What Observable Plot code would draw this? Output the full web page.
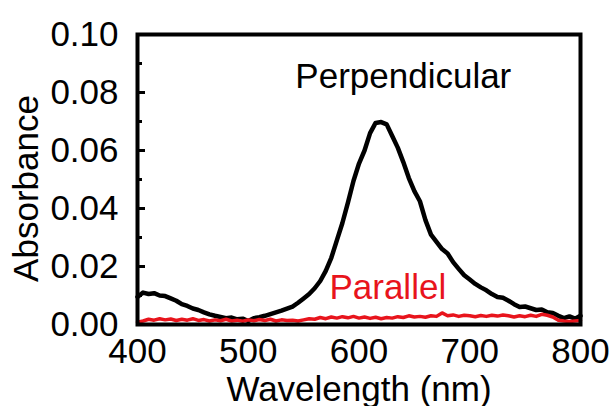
<!DOCTYPE html>
<html>
<head>
<meta charset="utf-8">
<script src="https://cdn.jsdelivr.net/npm/d3@7"></script>
<script src="https://cdn.jsdelivr.net/npm/@observablehq/plot@0.6"></script>
<style>
  html, body { margin: 0; padding: 0; background: #fff; }
</style>
</head>
<body>
<div id="chart"></div>
<script>
const wavelengths = d3.range(400, 801, 5);
const perpendicular = [
  0.0095, 0.0110, 0.0105, 0.0108, 0.0100, 0.0098, 0.0090, 0.0082, 0.0070, 0.0064,
  0.0055, 0.0050, 0.0042, 0.0035, 0.0030, 0.0026, 0.0022, 0.0024, 0.0018, 0.0020,
  0.0012, 0.0022, 0.0025, 0.0030, 0.0036, 0.0042, 0.0048, 0.0055, 0.0062, 0.0075,
  0.0090, 0.0105, 0.0125, 0.0150, 0.0185, 0.0230, 0.0290, 0.0350, 0.0420, 0.0495,
  0.0555, 0.0600, 0.0660, 0.0695, 0.0698, 0.0690, 0.0650, 0.0610, 0.0560, 0.0505,
  0.0460, 0.0425, 0.0360, 0.0310, 0.0285, 0.0260, 0.0245, 0.0215, 0.0192, 0.0170,
  0.0155, 0.0140, 0.0128, 0.0118, 0.0105, 0.0095, 0.0092, 0.0082, 0.0070, 0.0060,
  0.0062, 0.0056, 0.0050, 0.0052, 0.0042, 0.0040, 0.0030, 0.0022, 0.0028, 0.0020,
  0.0030
];
const parallel = [
  0.0008, 0.0012, 0.0018, 0.0015, 0.0020, 0.0016, 0.0019, 0.0014, 0.0018, 0.0015,
  0.0020, 0.0014, 0.0017, 0.0012, 0.0016, 0.0013, 0.0018, 0.0012, 0.0015, 0.0011,
  0.0016, 0.0013, 0.0017, 0.0014, 0.0018, 0.0012, 0.0016, 0.0014, 0.0015, 0.0012,
  0.0016, 0.0020, 0.0018, 0.0024, 0.0020, 0.0026, 0.0022, 0.0027, 0.0023, 0.0028,
  0.0022, 0.0026, 0.0021, 0.0025, 0.0020, 0.0024, 0.0022, 0.0027, 0.0024, 0.0030,
  0.0026, 0.0028, 0.0025, 0.0030, 0.0028, 0.0040, 0.0030, 0.0033, 0.0028, 0.0032,
  0.0030, 0.0027, 0.0031, 0.0028, 0.0032, 0.0029, 0.0033, 0.0030, 0.0026, 0.0030,
  0.0027, 0.0032, 0.0028, 0.0035, 0.0032, 0.0026, 0.0015, 0.0012, 0.0010, 0.0012,
  0.0014
];
const xTicks = [400, 500, 600, 700, 800];
const yTicks = [0, 0.02, 0.04, 0.06, 0.08, 0.10];
const yMinorTicks = [0.01, 0.03, 0.05, 0.07, 0.09];
const seriesNames = ["Perpendicular", "Parallel"];
const labelX = [640, 626];
const labelY = [0.0855, 0.0128];

const perpData = wavelengths.map((w, i) => ({w, a: perpendicular[i]}));
const parData = wavelengths.map((w, i) => ({w, a: parallel[i]}));
const labels = seriesNames.map((name, i) => ({name, x: labelX[i], y: labelY[i]}));

const RED = "#e8141c";
const FS = 35;

const chart = Plot.plot({
  width: 610,
  height: 406,
  marginLeft: 137,
  marginRight: 30,
  marginTop: 34,
  marginBottom: 82,
  style: {fontFamily: "'Liberation Sans', Arial, sans-serif", fontSize: FS + "px", background: "#fff", color: "#000"},
  x: {domain: [400, 800]},
  y: {domain: [0, 0.1]},
  marks: [
    Plot.line(perpData, {x: "w", y: "a", stroke: "#000", strokeWidth: 4.5, strokeLinejoin: "round"}),
    Plot.line(parData, {x: "w", y: "a", stroke: RED, strokeWidth: 3.5, strokeLinejoin: "round"}),
    Plot.frame({stroke: "#000", strokeWidth: 4}),
    Plot.axisX({ticks: xTicks, tickSize: 0, tickPadding: 14, label: null, fontSize: FS}),
    Plot.axisY({ticks: yTicks, tickSize: 0, tickPadding: 19, tickFormat: d3.format(".2f"), label: null, fontSize: FS}),
    Plot.axisY({ticks: yTicks, tickSize: -8, strokeWidth: 3, tickFormat: () => "", label: null}),
    Plot.axisY({ticks: yMinorTicks, tickSize: -5, strokeWidth: 3, tickFormat: () => "", label: null}),
    Plot.text(labels, {x: "x", y: "y", text: "name", fill: (d) => d.name === "Parallel" ? RED : "#000", fontSize: FS}),
    Plot.text(["Absorbance"], {frameAnchor: "left", textAnchor: "middle", rotate: -90, dx: -111, dy: 9, fontSize: FS}),
    Plot.text(["Wavelength (nm)"], {frameAnchor: "bottom", lineAnchor: "top", dy: 52, fontSize: FS})
  ]
});
document.getElementById("chart").appendChild(chart);
</script>
</body>
</html>
